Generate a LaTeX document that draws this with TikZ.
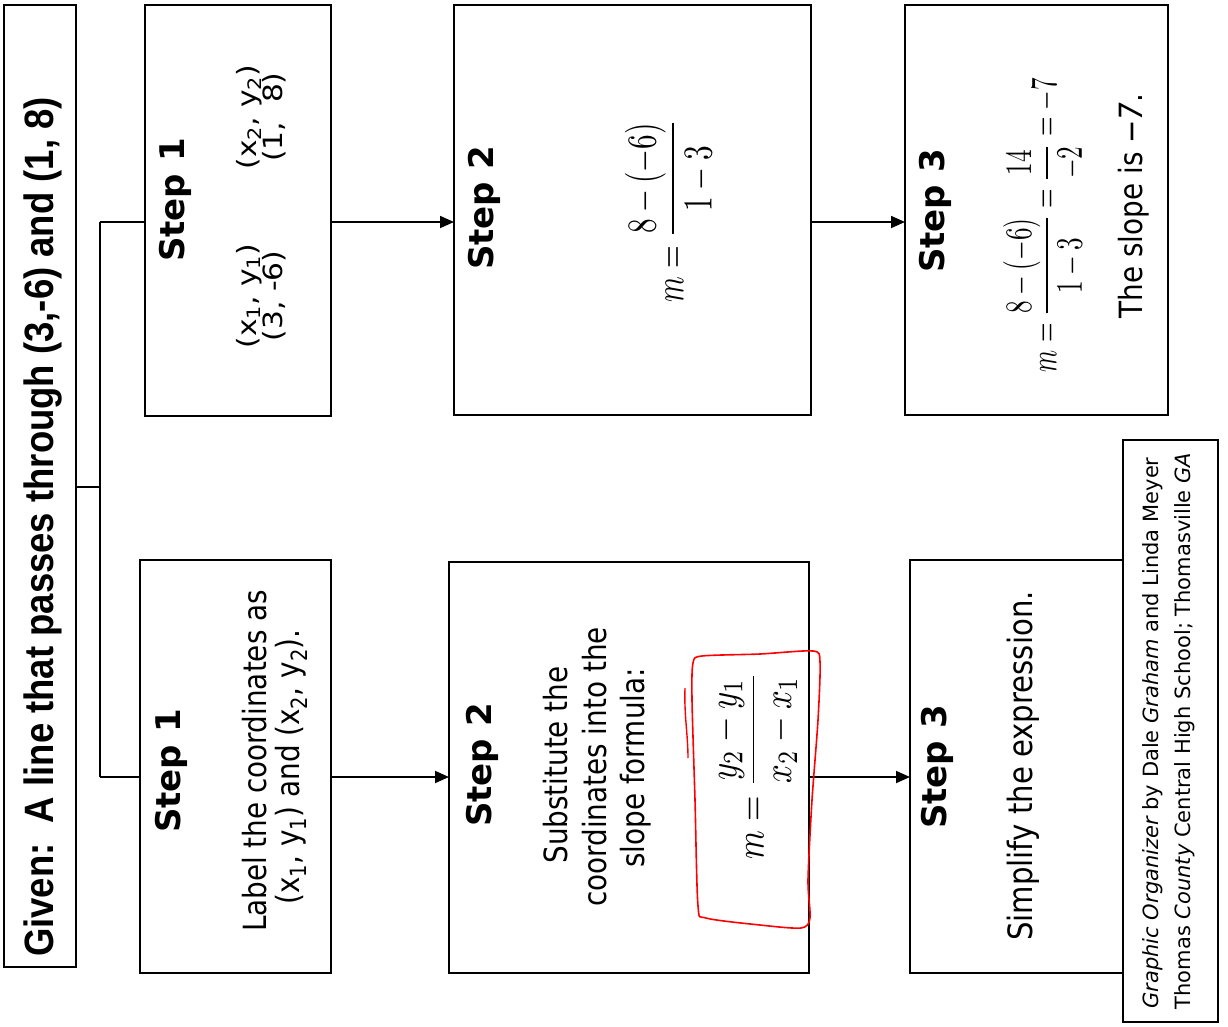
\documentclass[tikz,border=0pt]{standalone}
\usepackage{fontspec}
\usepackage{graphicx}
\setmainfont{DejaVu Sans}
\newfontfamily\bodyfont[FakeStretch=0.87]{DejaVu Sans}
\newfontfamily\tuplefont[FakeStretch=1.12]{DejaVu Sans}
\newfontfamily\givenfont[FakeStretch=0.89]{Liberation Sans}
\newfontfamily\creditfont{DejaVu Sans}
\usetikzlibrary{arrows.meta}
\begin{document}
\begin{tikzpicture}[x=1pt,y=-1pt,
  box/.style={draw, line width=2.4pt, rectangle, inner sep=0pt, outer sep=0pt},
  steplabel/.style={rotate=90, inner sep=0pt, font=\fontsize{34}{40}\selectfont\bfseries},
  body/.style={rotate=90, anchor=base, inner sep=0pt, font=\bodyfont\fontsize{32}{38}\selectfont},
  tuple/.style={rotate=90, inner sep=0pt, align=center, font=\tuplefont\fontsize{26.5}{23.5}\selectfont},
  formula/.style={rotate=90, inner sep=0pt},
  credit/.style={rotate=90, anchor=base, inner sep=0pt, font=\creditfont\fontsize{21}{24}\selectfont},
  conn/.style={line width=1.8pt},
  arr/.style={line width=1.8pt, -{Triangle[length=14pt,width=12pt]}}
]
\useasboundingbox (0,0) rectangle (1228,1026);
\fill[white] (0,0) rectangle (1228,1026);

% boxes
\node[box, minimum width=72pt, minimum height=962pt] (given) at (40,486) {};
\node[box, minimum width=186pt, minimum height=411pt] (s1t) at (238,210.5) {};
\node[box, minimum width=357pt, minimum height=410pt] (s2t) at (632.5,210) {};
\node[box, minimum width=263pt, minimum height=410pt] (s3t) at (1036.5,210) {};
\node[box, minimum width=191pt, minimum height=413pt] (s1b) at (235.5,766.5) {};
\node[box, minimum width=360pt, minimum height=411pt] (s2b) at (629,767.5) {};
\node[box, minimum width=213pt, minimum height=413pt] (s3b) at (1016.5,766.5) {};
\node[box, minimum width=95pt, minimum height=582pt] (credit) at (1170.5,731) {};

% connectors
\coordinate (jm) at (100,487);
\coordinate (jt) at (100,222);
\coordinate (jb) at (100,777);
\draw[conn] (given.east |- jm) -- (jm);
\draw[conn] (jt) -- (jb);
\draw[conn] (jt) -- (s1t.west |- jt);
\draw[conn] (jb) -- (s1b.west |- jb);
\draw[arr] (s1t.east |- jt) -- (s2t.west |- jt);
\draw[arr] (s2t.east |- jt) -- (s3t.west |- jt);
\draw[arr] (s1b.east |- jb) -- (s2b.west |- jb);
\draw[arr] (s2b.east |- jb) -- (s3b.west |- jb);

% title
\node[rotate=90, anchor=base, inner sep=0pt, font=\givenfont\fontsize{41}{48}\selectfont\bfseries] (gtext) at (53,527) {Given:\ \ A line that passes through (3,-6) and (1, 8)};

% top row
\node[steplabel] (t1) at (175,200) {Step 1};
\node[tuple] (c1) at (261,296) {(x\textsubscript{1}, y\textsubscript{1})\\(3, -6)};
\node[tuple] (c2) at (261,117) {(x\textsubscript{2}, y\textsubscript{2})\\(1,\ \ 8)};
\node[steplabel] (t2) at (484,208) {Step 2};
\node[formula] (f2) at (670,211) {\resizebox*{182pt}{90pt}{$\displaystyle m=\frac{8-(-6)}{1-3}$}};
\node[steplabel] (t3) at (935,211) {Step 3};
\node[formula] (f3) at (1044,225) {\resizebox*{294pt}{82pt}{$\displaystyle m=\frac{8-(-6)}{1-3}=\frac{14}{-2}=-7$}};
\node[body] (sl) at (1142,206) {The slope is −\textit{7}.};

% bottom row
\node[steplabel] (b1) at (171,771) {Step 1};
\node[body] (l1a) at (266,761) {Label the coordinates as};
\node[body] (l1b) at (299,767) {(x\textsubscript{1}, y\textsubscript{1}) and (x\textsubscript{2}, y\textsubscript{2}).};
\node[steplabel] (b2) at (482,765) {Step 2};
\node[body] (l2a) at (567,765) {Substitute the};
\node[body] (l2b) at (606,767) {coordinates into the};
\node[body] (l2c) at (644,768) {slope formula:};
\node[formula] (f2b) at (755,766) {\resizebox*{187pt}{84pt}{$\displaystyle m=\frac{y_2-y_1}{x_2-x_1}$}};
\node[steplabel] (b3) at (937,767) {Step 3};
\node[body, font=\bodyfont\fontsize{33.5}{38}\selectfont] (l3) at (1032,766) {Simplify the expression.};

% credit
\node[credit] (cr1) at (1158,733) {\itshape Graphic Organizer \upshape by Dale \itshape Graham \upshape and Linda Meyer};
\node[credit] (cr2) at (1190,731) {Thomas \itshape County \upshape Central High School; Thomasville \itshape GA};

% red hand-drawn outline
\draw[red, line width=1.6pt] plot[smooth cycle, tension=0.45] coordinates {(693,663) (702,656) (760,654) (813,651) (820,662) (818,720) (812,800) (808,880) (810,918) (801,928) (760,925) (706,918) (698,906) (695,800) (692,700)};
\draw[red, line width=1.4pt] (685,688) .. controls (684,715) and (688,735) .. (688,758);
\end{tikzpicture}
\end{document}
